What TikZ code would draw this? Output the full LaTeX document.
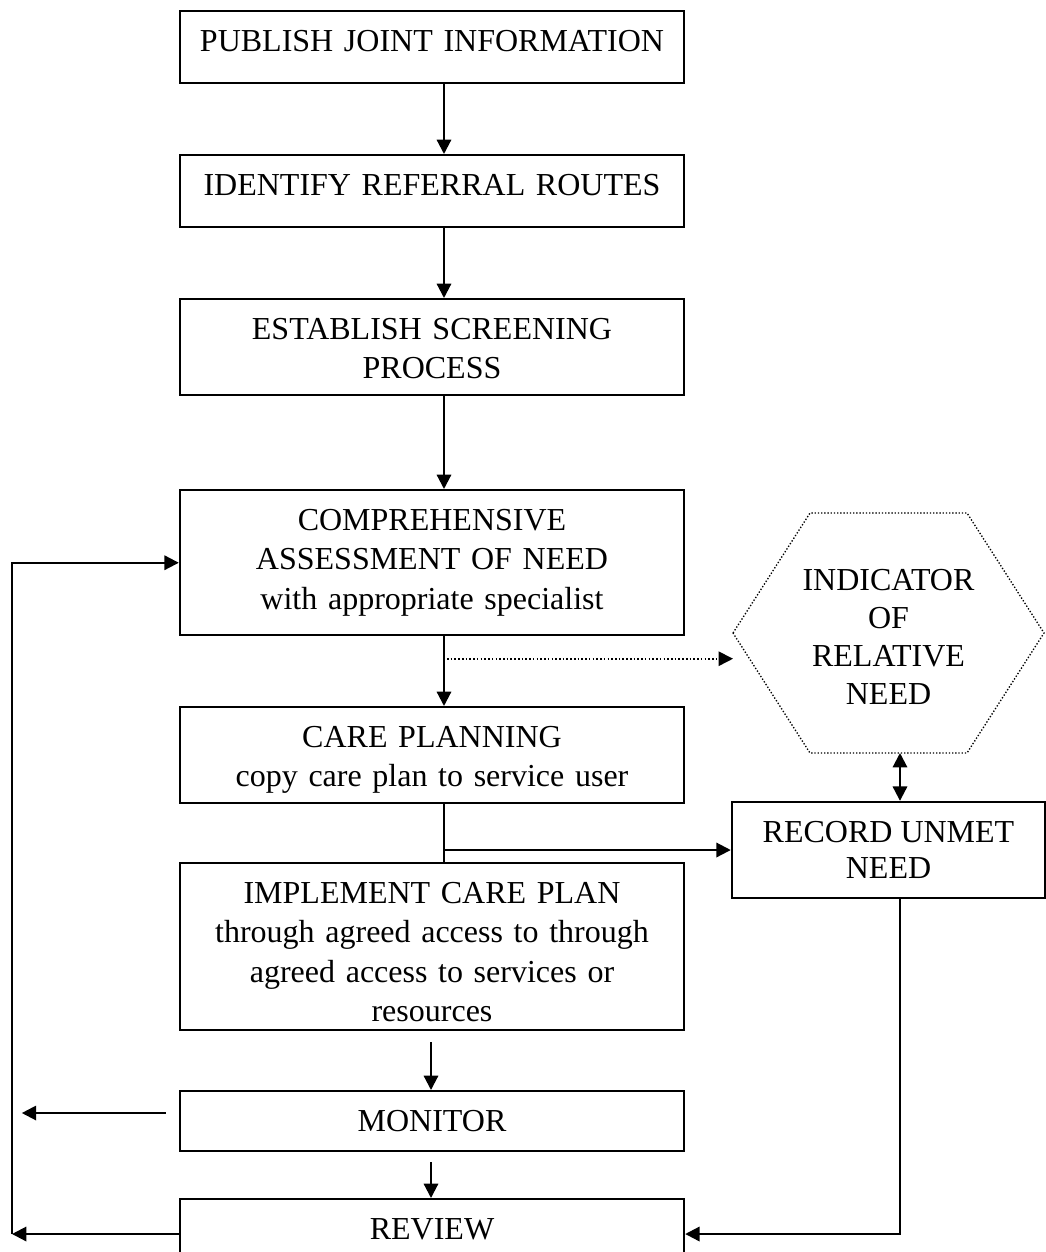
\documentclass[tikz,border=0pt]{standalone}
\usepackage{fontspec}
\setmainfont{Liberation Serif}
\usetikzlibrary{arrows.meta,calc}
\begin{document}
\begin{tikzpicture}[x=0.375pt,y=-0.375pt,>={Triangle[length=5.4pt,width=5.4pt]},
	box/.style={draw,line width=0.9pt,inner sep=0pt,text width=189pt,align=center,text height=15pt,anchor=north,font=\fontsize{12}{14.8}\selectfont},
	link/.style={line width=0.8pt}]
	\useasboundingbox (0,0) rectangle (1046,1252);
	\clip (0,0) rectangle (1046,1252);
	\coordinate (spine) at (444,0);
	\coordinate (lower) at (431,0);
	\coordinate (loop) at (12,0);
	\node[box,text depth=12pt] (pub) at (432,10) {PUBLISH JOINT INFORMATION};
	\node[box,text depth=12pt] (ident) at (432,154) {IDENTIFY REFERRAL ROUTES};
	\node[box,text depth=21pt] (screen) at (432,298) {ESTABLISH SCREENING\\PROCESS};
	\node[box,text depth=39.4pt] (assess) at (432,489) {COMPREHENSIVE\\ASSESSMENT OF NEED\\with appropriate specialist};
	\node[box,text depth=21pt] (plan) at (432,706) {CARE PLANNING\\copy care plan to service user};
	\node[box,text depth=47.6pt] (implement) at (432,862) {IMPLEMENT CARE PLAN\\through agreed access to through\\agreed access to services or\\resources};
	\node[box,text depth=7.5pt] (monitor) at (432,1090) {MONITOR};
	\node[box,text depth=25pt] (review) at (432,1198) {REVIEW};
	\node[draw,line width=0.9pt,minimum width=117.4pt,minimum height=36pt,inner sep=0pt,align=center,font=\fontsize{12}{13.6}\selectfont] (record) at (888.5,850) {RECORD UNMET\\NEED};
	\node[align=center,inner sep=0pt,font=\fontsize{12}{14.3}\selectfont] (indicator) at (888.5,637) {INDICATOR\\OF\\RELATIVE\\NEED};
	\draw[line width=0.5pt,dash pattern=on 0.5pt off 0.7pt] (733,633) coordinate (hexW) -- (810,513) -- (967,513) -- (1044,633) -- (967,753) -- (810,753) -- cycle;
	\coordinate (hexS) at (900,753);
	\draw[link,->] (pub.south -| spine) -- (ident.north -| spine);
	\draw[link,->] (ident.south -| spine) -- (screen.north -| spine);
	\draw[link,->] (screen.south -| spine) -- (assess.north -| spine);
	\draw[link,->] (assess.south -| spine) -- coordinate[pos=0.32] (tap) (plan.north -| spine);
	\draw[line width=0.6pt,dash pattern=on 0.6pt off 0.8pt,->] ($(tap)+(3,0)$) -- (hexW |- tap);
	\draw[link] (plan.south -| spine) -- (implement.north -| spine);
	\draw[link,->] (spine |- record.west) -- (record.west);
	\draw[link,<->] (hexS) -- (record.north -| hexS);
	\draw[link,->] ($(implement.south -| lower)+(0,11)$) -- (monitor.north -| lower);
	\draw[link,->] ($(monitor.south -| lower)+(0,10)$) -- (review.north -| lower);
	\draw[link,->] ($(monitor.north west)+(-13,23)$) -- ++(-144,0);
	\draw[link,->] ($(review.north west)+(0,36)$) coordinate (rv) -- (loop |- rv);
	\draw[link,->] (loop |- rv) -- (loop |- assess.west) -- (assess.west);
	\draw[link,->] (record.south -| hexS) |- (rv -| review.east);
\end{tikzpicture}
\end{document}
